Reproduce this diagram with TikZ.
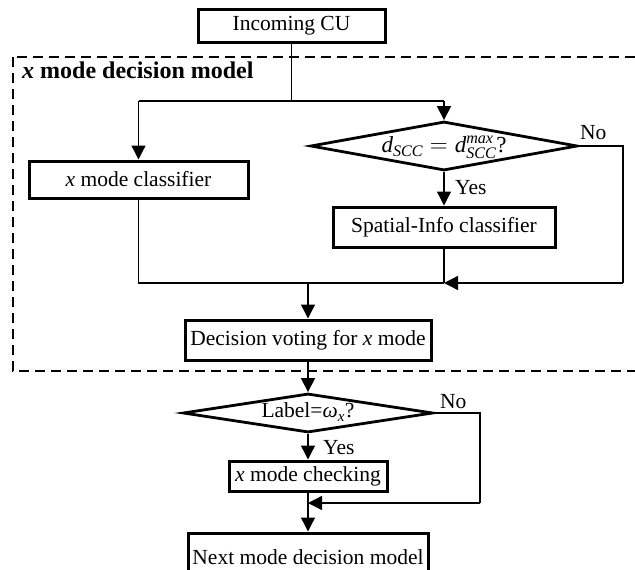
\documentclass[tikz,border=0pt]{standalone}
\usepackage{amsmath}
\usepackage{fontspec}
\setmainfont{Liberation Serif}
\usetikzlibrary{arrows.meta,shapes.geometric}
\begin{document}
\begin{tikzpicture}[x=1pt,y=-1pt,
  box/.style={draw,line width=3pt,inner sep=0pt,font=\fontsize{21.5}{24}\selectfont},
  dia/.style={draw,diamond,line width=2.8pt,inner sep=0pt},
  lbl/.style={font=\fontsize{21.5}{24}\selectfont,inner sep=0pt},
  conn/.style={line width=1.3pt},
  arr/.style={conn,-{Triangle[length=14pt,width=14pt]}},
  frame/.style={line width=2pt,dash pattern=on 10pt off 6pt}
]
\clip (0,0) rectangle (635,570);
\draw[frame] (13,57) rectangle (650,371);
\node[font=\fontsize{24}{28}\selectfont\bfseries,anchor=base west,inner sep=0pt] (title) at (22,78) {\textit{x} mode decision model};

\node[box,minimum width=187pt,minimum height=33pt] (in) at (291.5,25.5) {Incoming CU};
\node[box,minimum width=219pt,minimum height=37pt] (cls) at (138.5,179.5) {\textit{x} mode classifier};
\node[dia,minimum width=267pt,minimum height=49pt] (d1) at (444,146) {};
\node[lbl,font=\fontsize{23}{25}\selectfont] (d1t) at (444,147.5) {$\textit{d}_{\textit{SCC}}=\textit{d}_{\textit{SCC}}^{\textit{max}}$?};
\node[lbl,anchor=west] (no1) at (580,133) {No};
\node[lbl,anchor=west] (yes1) at (455,188) {Yes};
\node[box,minimum width=222pt,minimum height=40pt] (sp) at (444,227) {Spatial-Info classifier};
\node[box,minimum width=246pt,minimum height=40pt] (vote) at (308,340) {Decision voting for \textit{x} mode};
\node[dia,minimum width=250pt,minimum height=39pt] (d2) at (308,413) {};
\node[lbl] (d2t) at (308,412) {Label=\textit{ω}$_{\textit{x}}$?};
\node[lbl,anchor=west] (no2) at (440,402) {No};
\node[lbl,anchor=west] (yes2) at (323,448) {Yes};
\node[box,minimum width=158pt,minimum height=30pt] (chk) at (308,476) {\textit{x} mode checking};
\node[box,minimum width=240pt,minimum height=48pt] (nxt) at (308,557) {Next mode decision model};

\coordinate (s1) at (291.5,101);
\coordinate (sl) at (138.5,101);
\coordinate (sr) at (444,101);
\coordinate (d1r) at (623,146);
\coordinate (d1rb) at (623,283);
\coordinate (j1) at (444,283);
\coordinate (cl) at (138.5,283);
\coordinate (jv) at (308,283);
\coordinate (d2r) at (480,413);
\coordinate (d2rb) at (480,503);
\coordinate (j2) at (308,503);

\draw[conn] (in.south) -- (s1);
\draw[conn] (sl) -- (sr);
\draw[arr] (sl) -- (cls.north);
\draw[arr] (sr) -- (d1.north);
\draw[arr] (d1.south) -- (sp.north);
\draw[conn] (d1.east) -- (d1r) -- (d1rb);
\draw[arr] (d1rb) -- (j1);
\draw[conn] (sp.south) -- (j1);
\draw[conn] (cls.south) -- (cl) -- (j1);
\draw[arr] (jv) -- (vote.north);
\draw[arr] (vote.south) -- (d2.north);
\draw[arr] (d2.south) -- (chk.north);
\draw[conn] (d2.east) -- (d2r) -- (d2rb);
\draw[arr] (d2rb) -- (j2);
\draw[conn] (chk.south) -- (j2);
\draw[arr] (j2) -- (nxt.north);
\end{tikzpicture}
\end{document}
